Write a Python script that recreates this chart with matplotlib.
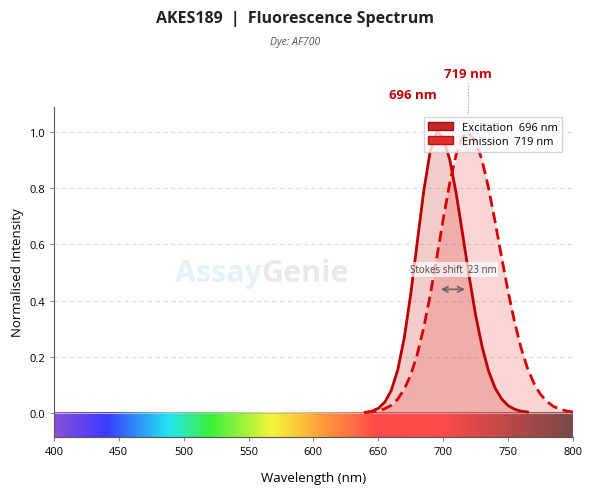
import numpy as np
import matplotlib
matplotlib.use("Agg")
import matplotlib.pyplot as plt
from matplotlib.colors import LinearSegmentedColormap
from matplotlib.patches import Patch

plt.rcParams['font.family'] = ['Open Sans', 'DejaVu Sans']

ex_wl = [640,645,650,655,660,665,670,675,680,685,690,695,696,700,705,710,715,720,725,730,735,740,745,750,755,760,765]
ex_val = [0.002,0.006,0.016,0.038,0.080,0.153,0.267,0.423,0.607,0.789,0.932,0.998,1.0,0.980,0.904,0.783,0.637,0.487,0.349,0.236,0.149,0.089,0.050,0.026,0.013,0.006,0.003]
em_wl = [640,645,650,655,660,665,670,675,680,685,690,695,700,705,710,715,719,725,730,735,740,745,750,755,760,765,770,775,780,785,790,795,800]
em_val = [0.002,0.003,0.007,0.015,0.027,0.049,0.084,0.135,0.208,0.303,0.419,0.551,0.689,0.817,0.920,0.984,1.0,0.969,0.900,0.801,0.682,0.556,0.434,0.325,0.232,0.159,0.105,0.066,0.040,0.023,0.013,0.007,0.003]
ex_peak, em_peak = 696, 719

fig = plt.figure(figsize=(5.9, 5.02), dpi=100)
ax = fig.add_axes([0.0915, 0.1275, 0.8795, 0.6575])
ax.set_xlim(400, 800)
ax.set_ylim(-0.086, 1.09)

cmap = LinearSegmentedColormap.from_list("spec", [
    (0.0, "#8a4fd8"), (0.1, "#3b3bff"), (0.22, "#22e6f2"), (0.3, "#3bf03b"),
    (0.42, "#f5f53a"), (0.52, "#ff9a3a"), (0.62, "#ff4a4a"), (0.75, "#ff4a4a"),
    (1.0, "#7a4848")])
ax.imshow(np.linspace(0, 1, 256)[None, :], cmap=cmap, aspect='auto',
          extent=[400, 800, -0.086, 0.0], zorder=1)

for yv in [0.2, 0.4, 0.6, 0.8, 1.0]:
    ax.axhline(yv, color='#dddddd', lw=0.8, ls=(0, (4, 3)), zorder=0)
ax.axhline(0, color='#bbbbbb', lw=0.8, zorder=2)

ax.fill_between(ex_wl, ex_val, color='#d43030', alpha=0.25, lw=0, zorder=2)
ax.fill_between(em_wl, em_val, color='#e84040', alpha=0.22, lw=0, zorder=2)
ax.plot(ex_wl, ex_val, color='#bb0000', lw=2, zorder=3, solid_joinstyle='round')
ax.plot(em_wl, em_val, color='#dd0000', lw=2, ls=(0, (4, 2)), zorder=3)

ax.text(ex_peak - 1, 1.11, f"{ex_peak} nm", color='#bb0000', fontsize=9.5, fontweight='bold',
        ha='right', va='bottom', clip_on=False)
ax.text(em_peak, 1.185, f"{em_peak} nm", color='#cc0000', fontsize=9.5, fontweight='bold',
        ha='center', va='bottom', clip_on=False)
ax.plot([em_peak, em_peak], [1.07, 1.175], color='#999999', lw=0.8, ls=':', clip_on=False)

ax.text(560, 0.5, "Assay", fontsize=22, fontweight='bold', color='#3aa0d8', alpha=0.13,
        ha='right', va='center', zorder=1)
ax.text(560, 0.5, "Genie", fontsize=22, fontweight='bold', color='#555566', alpha=0.13,
        ha='left', va='center', zorder=1)

ax.annotate("", xy=(696, 0.44), xytext=(719, 0.44),
            arrowprops=dict(arrowstyle='<->', color='#666666', lw=1.2), zorder=4)
ax.text(707.5, 0.51, "Stokes shift  23 nm", fontsize=7, color='#444444', ha='center', va='center',
        bbox=dict(boxstyle='square,pad=0.2', fc='white', ec='none', alpha=0.7), zorder=4)

ax.legend(handles=[Patch(fc='#c42828', ec='#a01010', label=f"Excitation  {ex_peak} nm"),
                   Patch(fc='#e03030', ec='#c01010', label=f"Emission  {em_peak} nm")],
          loc='upper right', bbox_to_anchor=(0.99, 0.985), fontsize=8, frameon=True,
          fancybox=False, edgecolor='#cccccc', handlelength=2.2, borderpad=0.4, labelspacing=0.3)

ax.set_xticks([400, 450, 500, 550, 600, 650, 700, 750, 800])
ax.set_yticks([0, 0.2, 0.4, 0.6, 0.8, 1.0])
ax.set_yticklabels(["0.0", "0.2", "0.4", "0.6", "0.8", "1.0"])
ax.tick_params(labelsize=8, color='#888888', length=3)
for s in ['top', 'right']:
    ax.spines[s].set_visible(False)
ax.spines['left'].set_color('#555555')
ax.spines['bottom'].set_color('#555555')
ax.set_xlabel("Wavelength (nm)", fontsize=9.5, labelpad=10)
ax.set_ylabel("Normalised Intensity", fontsize=9.5)

fig.text(0.5, 0.962, "AKES189  |  Fluorescence Spectrum", ha='center', va='center',
         fontsize=11.5, fontweight='bold', color='#222222')
fig.text(0.5, 0.915, "Dye: AF700", ha='center', va='center', fontsize=7.5,
         style='italic', color='#555555')

fig.savefig("out.png", dpi=100, facecolor='white')
